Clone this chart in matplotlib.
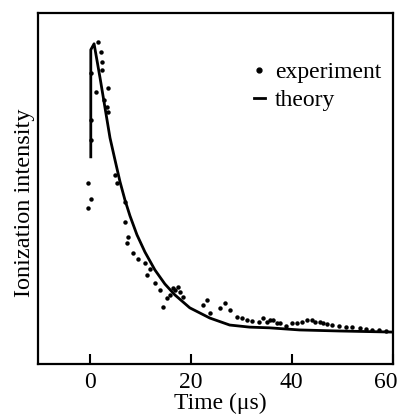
import matplotlib
matplotlib.use("Agg")
import matplotlib.pyplot as plt
from matplotlib.lines import Line2D
import matplotlib.transforms as mtrans

# ---- data ----
theory_t = [0.24, 0.24, 0.89, 2.07, 3.06, 4.04, 5.03, 6.02, 7.00, 7.99, 9.37, 10.95,
            12.92, 14.89, 16.86, 19.82, 23.77, 27.71, 31.66, 35.60, 41.52, 49.41, 59.67]
theory_y = [0.590, 0.895, 0.912, 0.815, 0.729, 0.644, 0.581, 0.519, 0.467, 0.422, 0.368, 0.319,
            0.268, 0.228, 0.197, 0.160, 0.131, 0.111, 0.105, 0.103, 0.097, 0.094, 0.091]

exp_t = [-0.4, 0.2, -0.3, 1.62, 2.27, 2.41, 3.65, 1.2, 3.39, 3.65, 0.3, 0.3, 0.3,
         2.47, 2.86, 5.03, 5.42, 7.0, 7.0, 7.59, 7.4, 8.58, 9.6, 10.95, 11.34, 12.0,
         12.92, 13.9, 14.5, 16.5, 16.86, 17.4, 17.85, 18.4, 15.9, 15.3,
         22.4, 23.2, 23.8, 25.7, 26.7, 27.7, 29.1, 30.1, 31.1, 32.2, 33.6, 34.4,
         35.0, 35.6, 36.2, 37.0, 37.6, 38.9, 40.1, 41.1, 42.1, 43.1, 43.9, 44.5,
         45.5, 46.1, 47.0, 48.0, 49.4, 50.8, 52.0, 53.4, 54.7, 55.9, 57.3, 58.7]
exp_y = [0.516, 0.470, 0.444, 0.918, 0.890, 0.861, 0.786, 0.776, 0.733, 0.719, 0.829, 0.695, 0.638,
         0.838, 0.752, 0.538, 0.516, 0.462, 0.405, 0.362, 0.345, 0.316, 0.300, 0.288, 0.254, 0.270,
         0.231, 0.211, 0.162, 0.217, 0.211, 0.219, 0.205, 0.191, 0.197, 0.188,
         0.168, 0.182, 0.145, 0.160, 0.174, 0.154, 0.134, 0.131, 0.125, 0.123, 0.120, 0.131,
         0.120, 0.125, 0.125, 0.117, 0.117, 0.108, 0.117, 0.117, 0.120, 0.125, 0.125, 0.120,
         0.120, 0.117, 0.114, 0.111, 0.108, 0.105, 0.105, 0.103, 0.100, 0.097, 0.097, 0.094]

xticks = [0, 20, 40, 60]
xlabel = "Time (\u03bcs)"
ylabel = "Ionization intensity"
legend_labels = ["experiment", "theory"]

plt.rcParams['font.family'] = ['Liberation Serif', 'DejaVu Serif']

fig = plt.figure(figsize=(4.01, 4.16), dpi=100)
ax = fig.add_axes([0.0948, 0.125, 0.885, 0.844])

ax.plot(theory_t, theory_y, color='black', lw=2.0, solid_joinstyle='round')
ax.plot(exp_t, exp_y, 'o', color='black', ms=3.2, mew=0)

ax.set_xlim(-10.2, 60)
ax.set_ylim(0, 1)
ax.set_xticks(xticks)
ax.set_xticklabels([str(v) for v in xticks])
ax.set_yticks([])
ax.tick_params(axis='x', direction='in', length=7, width=1.5, labelsize=17, pad=6)
for s in ax.spines.values():
    s.set_linewidth(1.6)

# nudge the last tick label left so it stays inside the figure, as in the reference
last = ax.get_xticklabels()[-1]
last.set_transform(last.get_transform() + mtrans.ScaledTranslation(-7/100, 0, fig.dpi_scale_trans))

ax.set_xlabel(xlabel, fontsize=17)
ax.xaxis.set_label_coords(0.513, -0.128)
ax.xaxis.label.set_va('baseline')
ax.set_ylabel(ylabel, fontsize=17.5)
ax.yaxis.set_label_coords(-0.008, 0.46)

handles = [Line2D([], [], marker='o', ls='none', color='black', ms=3.5),
           Line2D([], [], color='black', lw=2)]
ax.legend(handles, legend_labels, loc='upper right', bbox_to_anchor=(1.0, 0.895),
          frameon=False, fontsize=17, handlelength=0.5, handletextpad=0.4,
          labelspacing=0.28, borderpad=0.0)

fig.savefig("out.png", dpi=100)
